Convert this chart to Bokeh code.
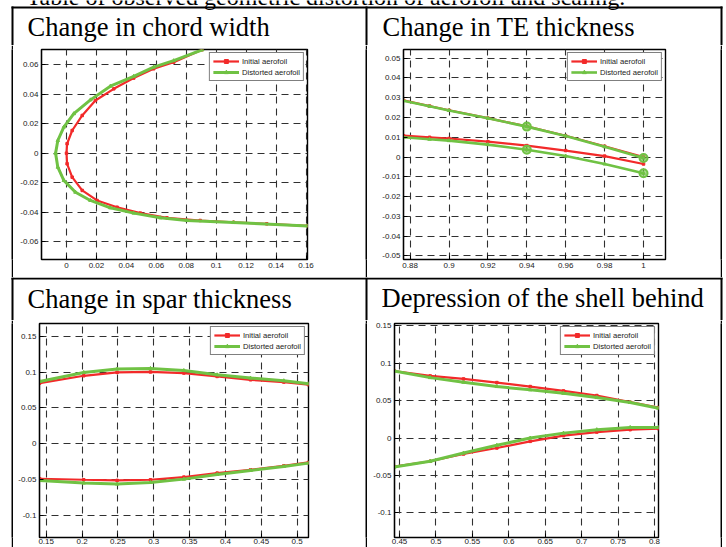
from bokeh.plotting import figure
from bokeh.models import Range1d, FixedTicker, Legend, LegendItem, Spacer
from bokeh.layouts import row, column
from bokeh.embed import file_html
from bokeh.resources import INLINE
from bokeh.core.properties import value

# ---------------- data ----------------
titles = ["Change in chord width", "Change in TE thickness",
          "Change in spar thickness", "Depression of the shell behind"]
caption = "Table of observed geometric distortion of aerofoil and scaling."
series_names = ["Initial aerofoil", "Distorted aerofoil"]

# chord width (leading edge)
cw_init_x = [0.0905, 0.0716, 0.0582, 0.0449, 0.0316, 0.0193, 0.0105, 0.0038, 0.0004, 0.0,
             0.0004, 0.0038, 0.0105, 0.0204, 0.0338, 0.0493, 0.0671, 0.0893, 0.1116, 0.1338, 0.161]
cw_init_y = [0.0702, 0.0618, 0.0573, 0.051, 0.0437, 0.0358, 0.0256, 0.0154, 0.0064, 0.0,
             -0.0072, -0.0163, -0.0253, -0.0321, -0.0367, -0.0407, -0.0439, -0.0457, -0.0469, -0.048, -0.0493]
cw_dist_x = [0.0907, 0.0716, 0.0582, 0.0449, 0.0293, 0.016, 0.0049, -0.0018, -0.0058, -0.0073,
             -0.0058, -0.0018, 0.006, 0.016, 0.0293, 0.0449, 0.0627, 0.0804, 0.1116, 0.161]
cw_dist_y = [0.0702, 0.0628, 0.0584, 0.0522, 0.0455, 0.0362, 0.0268, 0.0177, 0.0086, 0.0,
             -0.0095, -0.0185, -0.0265, -0.0321, -0.0371, -0.0407, -0.0439, -0.0457, -0.0471, -0.0494]
cw_xticks = [0, 0.02, 0.04, 0.06, 0.08, 0.1, 0.12, 0.14, 0.16]
cw_xlabels = ["0", "0.02", "0.04", "0.06", "0.08", "0.1", "0.12", "0.14", "0.16"]
cw_yticks = [-0.06, -0.04, -0.02, 0, 0.02, 0.04, 0.06]
cw_ylabels = ["-0.06", "-0.04", "-0.02", "0", "0.02", "0.04", "0.06"]

# trailing edge thickness
te_x = [0.8766, 0.89, 0.90, 0.92, 0.94, 0.96, 0.98, 1.0]
te_init_upper = [0.0287, 0.0258, 0.0237, 0.0197, 0.0155, 0.0108, 0.0055, 0.0]
te_init_lower = [0.0108, 0.0100, 0.0094, 0.0078, 0.0058, 0.0033, 0.0005, -0.0035]
te_dist_upper = [0.0285, 0.0257, 0.0236, 0.0196, 0.0154, 0.0107, 0.0052, -0.0005]
te_dist_lower = [0.0100, 0.0090, 0.0083, 0.0063, 0.0037, 0.0005, -0.0035, -0.0082]
te_ctrl_x = [0.94, 1.0, 0.94, 1.0]
te_ctrl_y = [0.0154, -0.0005, 0.0037, -0.0082]
te_xticks = [0.88, 0.9, 0.92, 0.94, 0.96, 0.98, 1.0]
te_xlabels = ["0.88", "0.9", "0.92", "0.94", "0.96", "0.98", "1"]
te_yticks = [-0.05, -0.04, -0.03, -0.02, -0.01, 0, 0.01, 0.02, 0.03, 0.04, 0.05]
te_ylabels = ["-0.05", "-0.04", "-0.03", "-0.02", "-0.01", "0", "0.01", "0.02", "0.03", "0.04", "0.05"]

# spar thickness
sp_x = [0.141, 0.2024, 0.2489, 0.2954, 0.342, 0.3884, 0.435, 0.4814, 0.5158]
sp_init_upper = [0.0846, 0.0948, 0.0995, 0.1002, 0.0986, 0.0939, 0.0892, 0.086, 0.0823]
sp_dist_upper = [0.0869, 0.0995, 0.1042, 0.1051, 0.1022, 0.0962, 0.0916, 0.0879, 0.0837]
sp_init_lower = [-0.0488, -0.0502, -0.0511, -0.0502, -0.0465, -0.0409, -0.0363, -0.0307, -0.0260]
sp_dist_lower = [-0.0511, -0.0548, -0.0562, -0.054, -0.0493, -0.0428, -0.0372, -0.0316, -0.0270]
sp_xticks = [0.15, 0.2, 0.25, 0.3, 0.35, 0.4, 0.45, 0.5]
sp_xlabels = ["0.15", "0.2", "0.25", "0.3", "0.35", "0.4", "0.45", "0.5"]
sp_yticks = [-0.1, -0.05, 0, 0.05, 0.1, 0.15]
sp_ylabels = ["-0.1", "-0.05", "0", "0.05", "0.1", "0.15"]

# depression of the shell behind
dp_x = [0.4427, 0.4921, 0.5379, 0.5836, 0.6294, 0.6751, 0.7208, 0.7666, 0.8055]
dp_init_upper = [0.0896, 0.083, 0.079, 0.0741, 0.0688, 0.063, 0.0568, 0.0479, 0.0408]
dp_dist_upper = [0.0896, 0.0807, 0.0745, 0.0688, 0.0644, 0.0598, 0.0541, 0.0475, 0.0399]
dp_init_lower = [-0.0381, -0.031, -0.0213, -0.0133, -0.0044, 0.0032, 0.008, 0.0112, 0.0125]
dp_dist_lower = [-0.0387, -0.031, -0.02, -0.0097, 0.0, 0.0066, 0.0112, 0.0142, 0.0142]
dp_xticks = [0.45, 0.5, 0.55, 0.6, 0.65, 0.7, 0.75, 0.8]
dp_xlabels = ["0.45", "0.5", "0.55", "0.6", "0.65", "0.7", "0.75", "0.8"]
dp_yticks = [-0.1, -0.05, 0, 0.05, 0.1, 0.15]
dp_ylabels = ["-0.1", "-0.05", "0", "0.05", "0.1", "0.15"]

# ---------------- style ----------------
RED = "#f22a2a"
GREEN = "#70c244"
SERIF = "Liberation Serif"
SANS = "Liberation Sans"


def axes_fig(w, h, borders, xr, yr, xt, xl, yt, yl, xstand=3):
    p = figure(width=w, height=h, x_range=Range1d(*xr), y_range=Range1d(*yr),
               toolbar_location=None, output_backend="svg",
               min_border_left=borders[0], min_border_right=borders[1],
               min_border_top=borders[2], min_border_bottom=borders[3])
    p.outline_line_color = "black"
    p.outline_line_width = 1.4
    xtk = FixedTicker(ticks=xt)
    ytk = FixedTicker(ticks=yt)
    p.xaxis.ticker = xtk
    p.yaxis.ticker = ytk
    p.xgrid.ticker = xtk
    p.ygrid.ticker = ytk
    p.xaxis.major_label_overrides = dict(zip(xt, xl))
    p.yaxis.major_label_overrides = dict(zip(yt, yl))
    for ax in (p.xaxis, p.yaxis):
        ax.axis_line_color = "black"
        ax.axis_line_width = 1.2
        ax.major_tick_in = 4
        ax.major_tick_out = 0
        ax.major_tick_line_color = "black"
        ax.minor_tick_line_color = None
        ax.major_label_text_font = SANS
        ax.major_label_text_font_size = "8px"
        ax.major_label_text_color = "#222222"
        ax.major_label_standoff = 3
    p.xaxis.major_label_standoff = xstand
    p.grid.grid_line_color = "#303030"
    p.grid.grid_line_dash = "7 5"
    p.grid.grid_line_width = 1.1
    return p


def add_series(p, xs_list, ys_list, color, marker, lw, msize):
    rs = []
    for xs, ys in zip(xs_list, ys_list):
        rs.append(p.line(xs, ys, line_color=color, line_width=lw))
        rs.append(p.scatter(xs, ys, marker=marker, size=msize, line_color=color,
                            fill_color=color))
    return rs


def add_legend(p, r_init, r_dist):
    lg = Legend(items=[LegendItem(label=series_names[0], renderers=r_init),
                       LegendItem(label=series_names[1], renderers=r_dist)],
                location="top_right")
    lg.margin = 3
    lg.padding = 3
    lg.spacing = 1
    lg.border_line_color = "black"
    lg.border_line_width = 1.3
    lg.background_fill_color = "white"
    lg.background_fill_alpha = 1
    lg.label_text_font = SANS
    lg.label_text_font_size = "7.7px"
    lg.label_text_color = "#222222"
    lg.label_standoff = 3
    lg.label_height = 10
    lg.glyph_height = 10
    lg.glyph_width = 26
    p.add_layout(lg)


# ---- chord width
p1 = axes_fig(352, 232, (28, 58, 4, 18), (-0.0167, 0.161), (-0.0722, 0.0704),
              cw_xticks, cw_xlabels, cw_yticks, cw_ylabels)
r1a = add_series(p1, [cw_init_x], [cw_init_y], RED, "square", 2.2, 2.5)
r1b = add_series(p1, [cw_dist_x], [cw_dist_y], GREEN, "triangle", 3.0, 3.5)
add_legend(p1, r1a[:2], r1b[:2])

# ---- TE thickness
p2 = axes_fig(353, 232, (36, 55, 2, 18), (0.8766, 1.0113), (-0.0518, 0.0544),
              te_xticks, te_xlabels, te_yticks, te_ylabels)
r2a = add_series(p2, [te_x, te_x], [te_init_upper, te_init_lower], RED, "square", 2.2, 2.5)
r2b = add_series(p2, [te_x, te_x], [te_dist_upper, te_dist_lower], GREEN, "triangle", 2.6, 3.5)
p2.scatter(te_ctrl_x, te_ctrl_y, marker="circle", size=8, line_color=GREEN, line_width=2,
           fill_color=GREEN, fill_alpha=0.6)
add_legend(p2, r2a[:2], r2b[:2])

# ---- spar thickness
p3 = axes_fig(352, 227, (26, 57, 3, 10), (0.1407, 0.5158), (-0.1307, 0.1677),
              sp_xticks, sp_xlabels, sp_yticks, sp_ylabels, xstand=1)
r3a = add_series(p3, [sp_x, sp_x], [sp_init_upper, sp_init_lower], RED, "square", 2.2, 2.5)
r3b = add_series(p3, [sp_x, sp_x], [sp_dist_upper, sp_dist_lower], GREEN, "triangle", 3.0, 3.5)
add_legend(p3, r3a[:2], r3b[:2])

# ---- depression
p4 = axes_fig(353, 227, (27, 62, 2, 10), (0.4431, 0.8055), (-0.1328, 0.153),
              dp_xticks, dp_xlabels, dp_yticks, dp_ylabels, xstand=1)
r4a = add_series(p4, [dp_x, dp_x], [dp_init_upper, dp_init_lower], RED, "square", 2.2, 2.5)
r4b = add_series(p4, [dp_x, dp_x], [dp_dist_upper, dp_dist_lower], GREEN, "triangle", 3.0, 3.5)
add_legend(p4, r4a[:2], r4b[:2])


# ---------------- table frame / headers ----------------
def header(h, top_line_y, texts, cut_text=None):
    p = figure(width=726, height=h, x_range=Range1d(0, 726), y_range=Range1d(h, 0),
               x_axis_type=None, y_axis_type=None, min_border=0, outline_line_color=None,
               toolbar_location=None, output_backend="svg")
    p.grid.visible = False
    p.quad(left=[11], right=[722], top=[top_line_y], bottom=[top_line_y + 2],
           fill_color="black", line_color=None)
    p.quad(left=[11, 365, 720], right=[13, 367, 722], top=[top_line_y] * 3, bottom=[h] * 3,
           fill_color="black", line_color=None)
    for (tx, ty, t) in texts:
        p.text(x=[tx], y=[ty], text=[t], text_font=value(SERIF), text_font_size="26.5px",
               text_baseline="alphabetic", text_color="black")
    if cut_text:
        p.text(x=[26], y=[-4], text=[cut_text], text_font=value(SERIF), text_font_size="24px",
               text_baseline="alphabetic", text_color="black")
    return p


def vline(h):
    p = figure(width=2, height=h, x_axis_type=None, y_axis_type=None, min_border=0,
               background_fill_color="black", border_fill_color="black",
               outline_line_color=None, toolbar_location=None, output_backend="svg")
    p.grid.visible = False
    return p


h1 = header(45, 6, [(27, 26, titles[0]), (382, 26, titles[1])], cut_text=caption)
h2 = header(43, 0, [(27, 21, titles[2]), (381, 20, titles[3])])

row1 = row(Spacer(width=11, height=232), vline(232), p1, vline(232), p2, vline(232),
           Spacer(width=4, height=232))
row2 = row(Spacer(width=11, height=227), vline(227), p3, vline(227), p4, vline(227),
           Spacer(width=4, height=227))

layout = column(h1, row1, h2, row2)

open("out.html", "w").write(file_html(layout, INLINE))
